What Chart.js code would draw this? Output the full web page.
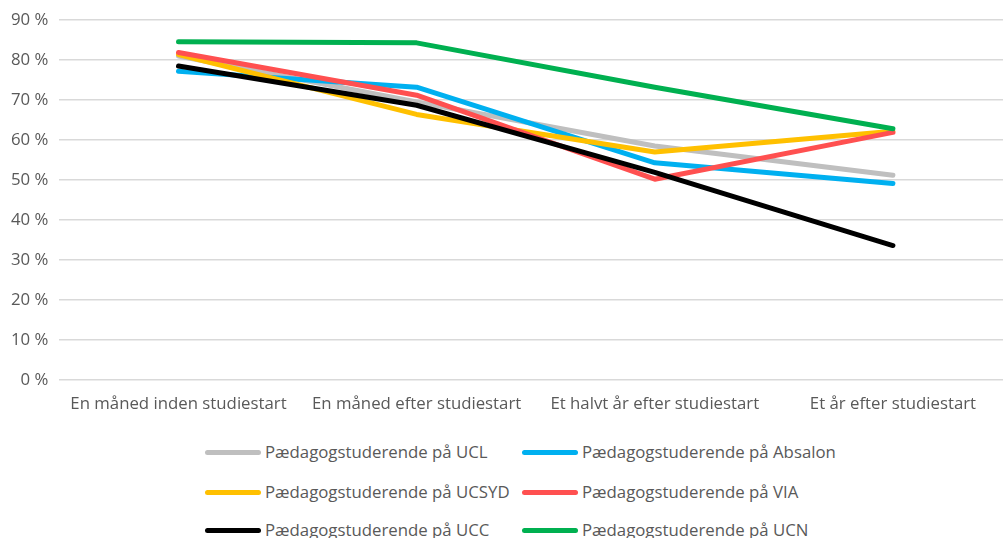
<!DOCTYPE html>
<html>
<head>
<meta charset="utf-8">
<script src="https://cdn.jsdelivr.net/npm/chart.js@4/dist/chart.umd.min.js"></script>
<style>
  html, body { margin: 0; padding: 0; background: #fff; overflow: hidden; }
  #wrap { position: relative; width: 1003px; height: 538px; overflow: hidden; }
  #box { position: absolute; left: 0; top: -1px; width: 1012px; height: 421px; }
  .leg { position: absolute; font: 16.8px "Open Sans", Lato, sans-serif; color: #595959; white-space: nowrap; line-height: 20px; }
  .leg i { display: inline-block; width: 56px; height: 5px; border-radius: 3px; vertical-align: middle; margin-right: 4px; position: relative; top: -1px; }
</style>
</head>
<body>
<div id="wrap">
  <div id="box"><canvas id="chart"></canvas></div>
  <div id="legend"></div>
</div>
<script>
const periods = ['En måned inden studiestart', 'En måned efter studiestart', 'Et halvt år efter studiestart', 'Et år efter studiestart'];
const seriesNames = ['Pædagogstuderende på UCL', 'Pædagogstuderende på Absalon', 'Pædagogstuderende på UCSYD',
  'Pædagogstuderende på VIA', 'Pædagogstuderende på UCC', 'Pædagogstuderende på UCN'];
const colors = ['#BFBFBF', '#00B0F0', '#FFC000', '#FF5050', '#000000', '#00B050'];

const ucl = [81.0, 69.5, 58.5, 51.2];
const absalon = [77.2, 73.2, 54.3, 49.1];
const ucsyd = [81.4, 66.4, 57.0, 62.2];
const via = [81.9, 71.2, 50.2, 61.9];
const ucc = [78.5, 68.7, 51.9, 33.6];
const ucn = [84.6, 84.3, 73.2, 62.8];
const allSeries = [ucl, absalon, ucsyd, via, ucc, ucn];

const yTicks = [0, 10, 20, 30, 40, 50, 60, 70, 80, 90];

const tickFont = { family: 'Open Sans', size: 16.8 };

new Chart(document.getElementById('chart'), {
  type: 'line',
  data: {
    labels: periods,
    datasets: allSeries.map((d, i) => ({
      label: seriesNames[i],
      data: d,
      borderColor: colors[i],
      backgroundColor: colors[i],
      borderWidth: 5,
      borderCapStyle: 'round',
      borderJoinStyle: 'round',
      pointRadius: 0,
      tension: 0,
      order: allSeries.length - i
    }))
  },
  options: {
    responsive: true,
    maintainAspectRatio: false,
    animation: false,
    layout: { padding: 0 },
    plugins: { legend: { display: false }, tooltip: { enabled: false } },
    scales: {
      x: {
        offset: true,
        grid: { display: false },
        border: { display: false },
        ticks: { color: '#595959', font: tickFont, maxRotation: 0, padding: 6 }
      },
      y: {
        min: 0,
        max: 90,
        afterBuildTicks: axis => { axis.ticks = yTicks.map(v => ({ value: v })); },
        grid: { color: '#D9D9D9', lineWidth: 1.5, drawTicks: false },
        border: { display: false },
        ticks: { color: '#595959', font: tickFont, padding: 11, callback: v => v + ' %' }
      }
    }
  }
});

// two-column legend under the plot
const legPos = [[205, 442], [522, 442], [205, 482], [522, 482], [205, 520], [522, 520]];
const legend = document.getElementById('legend');
seriesNames.forEach((name, i) => {
  const el = document.createElement('div');
  el.className = 'leg';
  el.style.left = legPos[i][0] + 'px';
  el.style.top = legPos[i][1] + 'px';
  el.innerHTML = '<i style="background:' + colors[i] + '"></i>' + name;
  legend.appendChild(el);
});
</script>
</body>
</html>
